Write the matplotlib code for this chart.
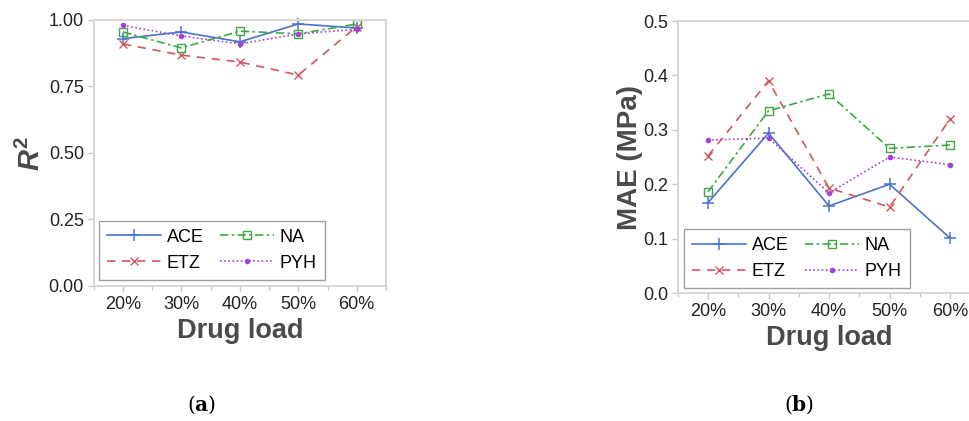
import numpy as np
import matplotlib
matplotlib.use('Agg')
import matplotlib.pyplot as plt

plt.rcParams['font.family'] = ['Liberation Sans', 'DejaVu Sans']
plt.rcParams['mathtext.fontset'] = 'custom'
plt.rcParams['mathtext.it'] = 'Liberation Sans:bold:italic'
plt.rcParams['mathtext.rm'] = 'Liberation Sans:bold'
plt.rcParams['mathtext.bf'] = 'DejaVu Serif:bold'

loads = ['20%', '30%', '40%', '50%', '60%']
drugs = ['ACE', 'ETZ', 'NA', 'PYH']

# R2 values (panel a)
r2_ace = [0.930, 0.955, 0.918, 0.985, 0.970]
r2_etz = [0.910, 0.868, 0.842, 0.793, 0.975]
r2_na = [0.955, 0.895, 0.958, 0.948, 0.985]
r2_pyh = [0.980, 0.940, 0.910, 0.948, 0.965]

# MAE values in MPa (panel b)
mae_ace = [0.166, 0.294, 0.160, 0.200, 0.101]
mae_etz = [0.252, 0.390, 0.193, 0.158, 0.320]
mae_na = [0.186, 0.335, 0.366, 0.266, 0.272]
mae_pyh = [0.281, 0.285, 0.184, 0.250, 0.236]

styles = {
    'ACE': dict(color='#4a74c9', ls='-', marker='+', ms=8, mew=1.1, mfc='#4a74c9'),
    'ETZ': dict(color='#d4555f', ls=(0, (5, 4)), marker='x', ms=6, mew=1.0, mfc='#d4555f'),
    'NA': dict(color='#3fa845', ls=(0, (5, 2, 1.5, 2)), marker='s', ms=5.5, mew=1.0, mfc='none'),
    'PYH': dict(color='#a342d8', ls=(0, (1, 1.5)), marker='o', ms=4, mew=0, mfc='#a342d8'),
}

fig = plt.figure(figsize=(9.7, 4.21), dpi=100)
ax_a = fig.add_axes([0.0966, 0.3207, 0.3013, 0.6318])
ax_b = fig.add_axes([0.6987, 0.3040, 0.3119, 0.6460])

x = np.arange(len(loads))


def style_axes(ax):
    for s in ax.spines.values():
        s.set_color('#d6d6d6')
        s.set_linewidth(1.4)
    ax.set_xlim(-0.5, 4.5)
    ax.set_xticks(x)
    ax.set_xticklabels(loads)
    ax.set_xticks(np.arange(-0.5, 4.6, 1.0), minor=True)
    ax.tick_params(axis='both', which='major', length=4, width=1, color='#c8c8c8',
                   labelsize=13, labelcolor='#222222', pad=3)
    ax.tick_params(axis='x', which='minor', length=3, width=1, color='#c8c8c8')
    ax.tick_params(axis='y', which='minor', length=0)
    ax.set_xlabel('Drug load', fontsize=19.5, fontweight='bold', color='#4a4a4a', labelpad=4)


def draw(ax, series, bbox):
    for name, vals in zip(drugs, series):
        st = styles[name]
        ax.plot(x, vals, color=st['color'], ls=st['ls'], lw=1.2, marker=st['marker'],
                ms=st['ms'], mew=st['mew'], mfc=st['mfc'], mec=st['color'], label=name,
                clip_on=False)
    leg = ax.legend(ncol=2, loc='lower left', bbox_to_anchor=bbox, borderaxespad=0,
                    fontsize=13, handlelength=3.0, columnspacing=0.9, handletextpad=0.3,
                    labelspacing=0.5, fancybox=False, framealpha=1, borderpad=0.45)
    leg.get_frame().set_edgecolor('#a0a0a0')
    leg.get_frame().set_linewidth(1.0)


draw(ax_a, [r2_ace, r2_etz, r2_na, r2_pyh], (0.018, 0.023))
style_axes(ax_a)
ax_a.set_ylim(0, 1.0)
ax_a.set_yticks([0, 0.25, 0.5, 0.75, 1.0])
ax_a.set_yticklabels(['0.00', '0.25', '0.50', '0.75', '1.00'])
ax_a.set_ylabel(r'$R^{\mathrm{2}}$', fontsize=21, color='#4a4a4a', labelpad=2)

draw(ax_b, [mae_ace, mae_etz, mae_na, mae_pyh], (0.021, 0.018))
style_axes(ax_b)
ax_b.set_ylim(0, 0.5)
ax_b.set_yticks([0, 0.1, 0.2, 0.3, 0.4, 0.5])
ax_b.set_yticklabels(['0.0', '0.1', '0.2', '0.3', '0.4', '0.5'])
ax_b.set_ylabel('MAE (MPa)', fontsize=20, fontweight='bold', color='#4a4a4a', labelpad=0)

fig.text(202 / 970, 1 - 405 / 421, r'($\mathbf{a}$)', fontsize=14.5, family='DejaVu Serif',
         ha='center', va='center')
fig.text(799 / 970, 1 - 405 / 421, r'($\mathbf{b}$)', fontsize=14.5, family='DejaVu Serif',
         ha='center', va='center')

fig.savefig('out.png', dpi=100)
